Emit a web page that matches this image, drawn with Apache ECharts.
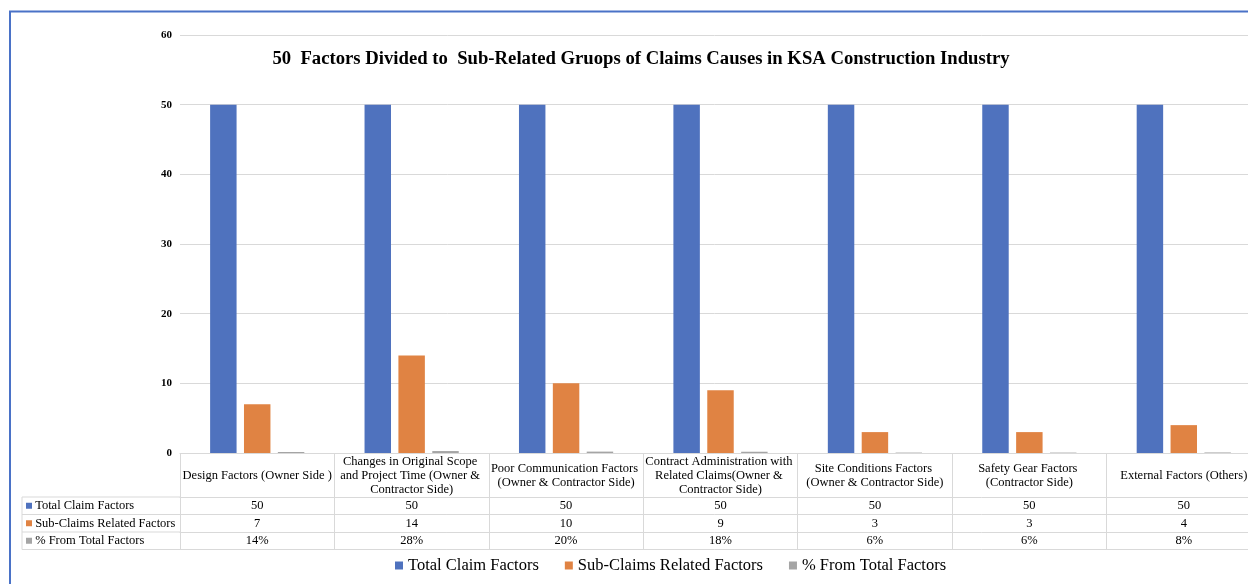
<!DOCTYPE html>
<html>
<head>
<meta charset="utf-8">
<script src="https://cdn.jsdelivr.net/npm/echarts@6/dist/echarts.min.js"></script>
<style>
  html, body { margin: 0; padding: 0; background: #fff; }
  #chart { width: 1248px; height: 584px; }
</style>
</head>
<body>
<div id="chart"></div>
<script>
// categories and values
const categories = [
  'Design Factors (Owner Side )',
  'Changes in Original Scope and Project Time (Owner & Contractor Side)',
  'Poor Communication Factors (Owner & Contractor Side)',
  'Contract Administration with Related Claims(Owner & Contractor Side)',
  'Site Conditions Factors (Owner & Contractor Side)',
  'Safety Gear Factors (Contractor Side)',
  'External Factors (Others)'
];
const totalFactors = [50, 50, 50, 50, 50, 50, 50];
const subFactors = [7, 14, 10, 9, 3, 3, 4];
const pctFactors = [0.14, 0.28, 0.20, 0.18, 0.06, 0.06, 0.08];
const yTicks = [0, 10, 20, 30, 40, 50, 60];

const seriesNames = ['Total Claim Factors', 'Sub-Claims Related Factors', '% From Total Factors'];
const colors = ['#4F72BE', '#E08343', '#A5A5A5'];

const FONT = 'Liberation Serif';
const LINE = '#D9D9D9';
const TABLE_FS = 12.5;

// one axis per table row, its labels read from the arrays above
function rowAxis(offset, values, fmt, nameIdx) {
  const ax = {
    type: 'category',
    data: categories,
    gridIndex: 0,
    position: 'bottom',
    offset: offset,
    axisLine: { show: true, lineStyle: { color: LINE, width: 1 } },
    axisTick: { show: false },
    splitLine: { show: false },
    axisLabel: {
      show: values != null,
      margin: 8.75,
      verticalAlign: 'middle',
      fontFamily: FONT,
      fontSize: TABLE_FS,
      color: '#000',
      interval: 0,
      formatter: (v, i) => values ? fmt(values[i]) : ''
    }
  };
  if (nameIdx != null) {
    ax.name = '{b|} ' + seriesNames[nameIdx];
    ax.nameLocation = 'start';
    ax.nameGap = 154;
    ax.nameTextStyle = {
      align: 'left',
      verticalAlign: 'top',
      lineHeight: 17.5,
      fontFamily: FONT,
      fontSize: TABLE_FS,
      color: '#000',
      rich: {
        b: { width: 6, height: 6, backgroundColor: colors[nameIdx] }
      }
    };
  }
  return ax;
}

const chart = echarts.init(document.getElementById('chart'));

const option = {
  animation: false,
  backgroundColor: '#fff',
  title: {
    text: '50  Factors Divided to  Sub-Related Gruops of Claims Causes in KSA Construction Industry',
    left: 636,
    textAlign: 'center',
    top: 45,
    textStyle: { fontFamily: FONT, fontWeight: 'bold', fontSize: 18.7, color: '#000' }
  },
  legend: {
    data: seriesNames,
    left: 390,
    top: 552,
    icon: 'rect',
    itemWidth: 8,
    itemHeight: 8,
    itemGap: 26,
    textStyle: { fontFamily: FONT, fontSize: 16.5, color: '#000' }
  },
  grid: { left: 180, top: 35, width: 1081, height: 418, containLabel: false, outerBoundsMode: 'none' },
  xAxis: [
    {
      type: 'category',
      data: categories,
      position: 'bottom',
      axisLine: { show: true, lineStyle: { color: LINE } },
      axisTick: { show: true, length: 96.5, lineStyle: { color: LINE } },
      axisLabel: {
        interval: 0,
        margin: 22.5,
        verticalAlign: 'middle',
        width: 152,
        overflow: 'break',
        lineHeight: 14,
        fontFamily: FONT,
        fontSize: TABLE_FS,
        color: '#000'
      }
    },
    rowAxis(44, totalFactors, v => String(v), 0),
    rowAxis(61.5, subFactors, v => String(v), 1),
    rowAxis(79, pctFactors, v => Math.round(v * 100) + '%', 2),
    rowAxis(96.5, null, null, null)
  ],
  yAxis: {
    type: 'value',
    min: yTicks[0],
    max: yTicks[yTicks.length - 1],
    interval: 10,
    axisLine: { show: false },
    axisTick: { show: false },
    splitLine: { lineStyle: { color: LINE } },
    axisLabel: { margin: 8, fontFamily: FONT, fontWeight: 'bold', fontSize: 11, color: '#000' }
  },
  graphic: [
    {
      type: 'rect',
      shape: { x: 10, y: 11.5, width: 1400, height: 700 },
      style: { fill: null, stroke: '#4A72C7', lineWidth: 2 },
      silent: true, z: 100
    },
    // left label column of the data table
    { type: 'line', shape: { x1: 22, y1: 497, x2: 22, y2: 549.5 }, style: { stroke: LINE } },
    { type: 'line', shape: { x1: 22, y1: 497, x2: 180, y2: 497 }, style: { stroke: LINE } },
    { type: 'line', shape: { x1: 22, y1: 514.5, x2: 180, y2: 514.5 }, style: { stroke: LINE } },
    { type: 'line', shape: { x1: 22, y1: 532, x2: 180, y2: 532 }, style: { stroke: LINE } },
    { type: 'line', shape: { x1: 22, y1: 549.5, x2: 180, y2: 549.5 }, style: { stroke: LINE } }
  ],
  series: [
    { name: seriesNames[0], type: 'bar', data: totalFactors, itemStyle: { color: colors[0] }, barGap: '28%', barCategoryGap: '39%' },
    { name: seriesNames[1], type: 'bar', data: subFactors, itemStyle: { color: colors[1] } },
    { name: seriesNames[2], type: 'bar', data: pctFactors, itemStyle: { color: colors[2] } }
  ]
};

chart.setOption(option);
</script>
</body>
</html>
